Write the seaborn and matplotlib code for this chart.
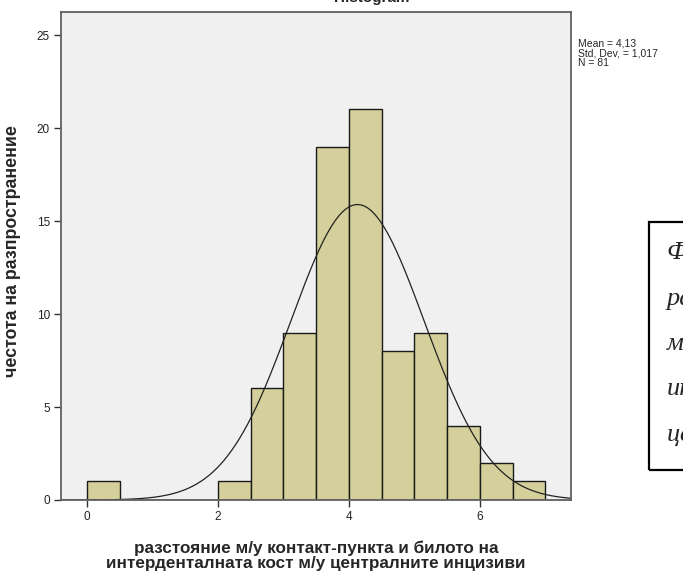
import numpy as np
import pandas as pd
import matplotlib
matplotlib.use("Agg")
import matplotlib.pyplot as plt
from matplotlib.patches import Rectangle
import seaborn as sns

# Histogram bins (width 0.5) and frequencies
bin_edges = [0.0, 0.5, 1.0, 1.5, 2.0, 2.5, 3.0, 3.5, 4.0, 4.5, 5.0, 5.5, 6.0, 6.5, 7.0]
counts = [1, 0, 0, 0, 1, 6, 9, 19, 21, 8, 9, 4, 2, 1]

# Summary statistics
mean_val = 4.13
std_dev = 1.017
n_obs = 81

y_ticks = [0, 5, 10, 15, 20, 25]
x_ticks = [0, 2, 4, 6]

x_label = "разстояние м/у контакт-пункта и билото на\nинтерденталната кост м/у централните инцизиви"
y_label = "честота на разпространение"
caption_lines = ["Фигура 1.", "разстояние", "между", "интерденталната", "централните"]

sns.set_style("white")
plt.rcParams["font.family"] = ["Liberation Sans", "DejaVu Sans"]

fig = plt.figure(figsize=(6.83, 5.76), dpi=100)
ax = fig.add_axes([61 / 683, 1 - 500 / 576, 510 / 683, 488 / 576])
ax.set_facecolor("#f0f0f0")

centers = [(a + b) / 2 for a, b in zip(bin_edges[:-1], bin_edges[1:])]
df = pd.DataFrame({"value": centers, "freq": counts})
sns.histplot(data=df, x="value", weights="freq", bins=bin_edges, ax=ax,
             color="#d4cf9b", alpha=1.0, edgecolor="#1a1a1a", linewidth=1.0)

# Fitted normal curve scaled to counts
bw = bin_edges[1] - bin_edges[0]
xs = np.linspace(-0.4, 7.4, 500)
ys = n_obs * bw * np.exp(-0.5 * ((xs - mean_val) / std_dev) ** 2) / (std_dev * np.sqrt(2 * np.pi))
sns.lineplot(x=xs, y=ys, ax=ax, color="#222222", linewidth=0.9)

ax.set_xlim(-0.397, 7.39)
ax.set_ylim(0, 26.24)
ax.set_xticks(x_ticks)
ax.set_yticks(y_ticks)
ax.tick_params(axis="both", which="both", direction="out", length=5, width=1,
               color="#333333", labelsize=8.5, labelcolor="#222222", pad=3)
ax.tick_params(left=True, bottom=True)
for s in ax.spines.values():
    s.set_color("#606060")
    s.set_linewidth(1.3)

ax.set_xlabel(x_label, fontsize=12.3, fontweight="bold", linespacing=1.0)
ax.set_ylabel(y_label, fontsize=12.8, fontweight="bold")
ax.xaxis.label.set_va("center")
ax.yaxis.label.set_va("center")
ax.xaxis.set_label_coords(0.5, (500 - 556) / 488)
ax.yaxis.set_label_coords((13 - 61) / 510, (500 - 251) / 488)

# Partially visible chart title
fig.text(372 / 683, 1 - 2 / 576, "Histogram", ha="center", va="baseline",
         fontsize=11, fontweight="bold")

# Summary statistics block
fig.text(578 / 683, 1 - 39 / 576,
         f"Mean = {mean_val:.2f}".replace(".", ",") + "\n"
         + f"Std. Dev. = {std_dev:.3f}".replace(".", ",") + "\n"
         + f"N = {n_obs}",
         ha="left", va="top", fontsize=7.5, linespacing=0.95)

# Caption frame on the right
fig.patches.append(Rectangle((649 / 683, 1 - 470 / 576), 60 / 683, 248 / 576,
                             transform=fig.transFigure, fill=False,
                             edgecolor="black", linewidth=1.6))
for i, line in enumerate(caption_lines):
    fig.text(667 / 683, 1 - (259 + 45.5 * i) / 576, line, ha="left", va="baseline",
             fontsize=19, style="italic", family=["Liberation Serif", "DejaVu Serif"])

fig.savefig("out.png", dpi=100)
